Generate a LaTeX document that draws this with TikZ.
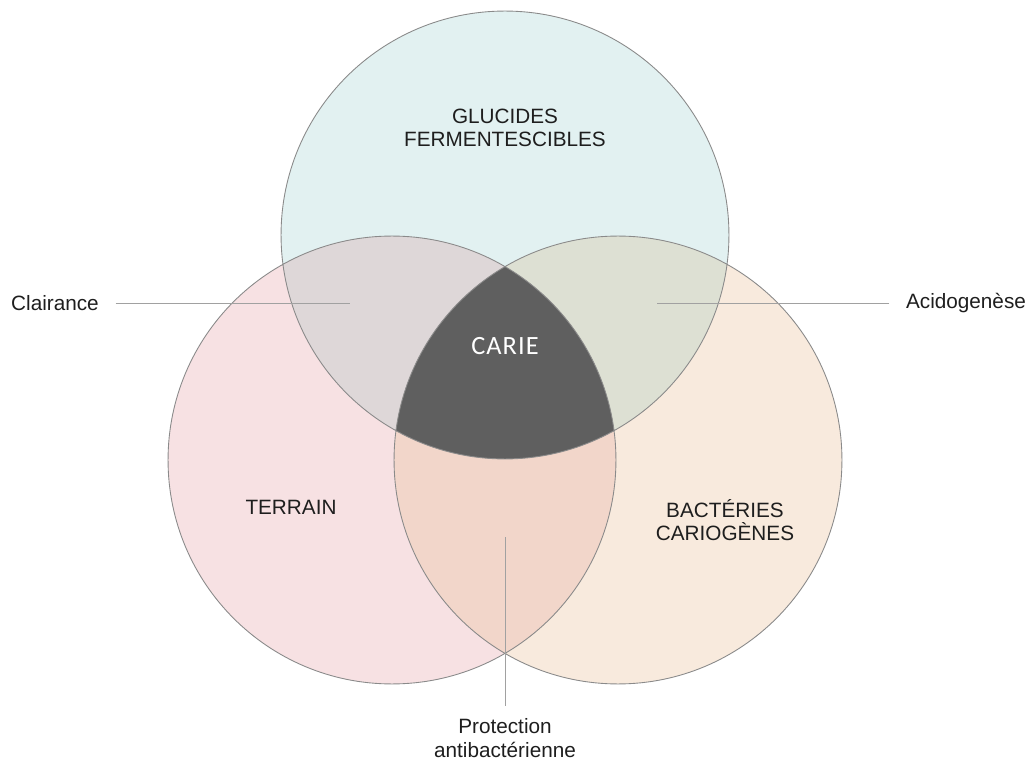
\documentclass[tikz,border=0pt]{standalone}
\usepackage{fontspec}
\setmainfont{Liberation Sans}
\newfontfamily\cariefont[LetterSpace=4]{Carlito}
\definecolor{glucfill}{HTML}{E2F1F1}
\definecolor{terrfill}{HTML}{F7E1E3}
\definecolor{bactfill}{HTML}{F8EADD}
\definecolor{gtfill}{HTML}{DED7D8}
\definecolor{gbfill}{HTML}{DDE0D3}
\definecolor{tbfill}{HTML}{F2D6CA}
\definecolor{cariefill}{HTML}{5F5F5F}
\definecolor{rim}{HTML}{8A8A8A}
\definecolor{ink}{HTML}{1E1E1E}
\def\rad{4.48cm}
\begin{document}
\begin{tikzpicture}[x=0.02cm, y=-0.02cm,
    lbl/.style={text=ink, align=center, font=\fontsize{11.8}{13.2}\selectfont},
    leader/.style={draw=rim!80, line width=0.5pt}]
  \useasboundingbox (0,0) rectangle (1029,760);
  % circle centres
  \coordinate (T) at (505,235);
  \coordinate (L) at (392,460);
  \coordinate (R) at (618,460);

  \fill[glucfill] (T) circle[radius=\rad];
  \fill[terrfill] (L) circle[radius=\rad];
  \fill[bactfill] (R) circle[radius=\rad];
  \begin{scope}
    \clip (T) circle[radius=\rad];
    \fill[gtfill] (L) circle[radius=\rad];
    \fill[gbfill] (R) circle[radius=\rad];
  \end{scope}
  \begin{scope}
    \clip (L) circle[radius=\rad];
    \fill[tbfill] (R) circle[radius=\rad];
    \clip (R) circle[radius=\rad];
    \fill[cariefill] (T) circle[radius=\rad];
  \end{scope}
  \draw[rim, line width=0.5pt] (T) circle[radius=\rad] (L) circle[radius=\rad] (R) circle[radius=\rad];

  % labels
  \node[lbl] (gluc) at (505,128) {GLUCIDES\\FERMENTESCIBLES};
  \node[lbl] (terr) at (291,507) {TERRAIN};
  \node[lbl] (bact) at (725,520) {BACTÉRIES\\CARIOGÈNES};
  \node[text=white, font=\cariefont\fontsize{15}{17}\selectfont] (carie) at (505,346) {CARIE};

  \coordinate (clairpt) at (350,303);
  \coordinate (acidpt) at (657,303);
  \coordinate (protpt) at (505,537);
  \node[lbl] (clair) at (55,303) {Clairance};
  \node[lbl] (acid) at (966,303) {Acidogenèse};
  \node[lbl] (prot) at (505,738) {Protection\\antibactérienne};
  \draw[leader, shorten <=6pt] (clair) -- (clairpt);
  \draw[leader, shorten <=6pt] (acid) -- (acidpt);
  \draw[leader, shorten <=4pt] (prot) -- (protpt);
\end{tikzpicture}
\end{document}
